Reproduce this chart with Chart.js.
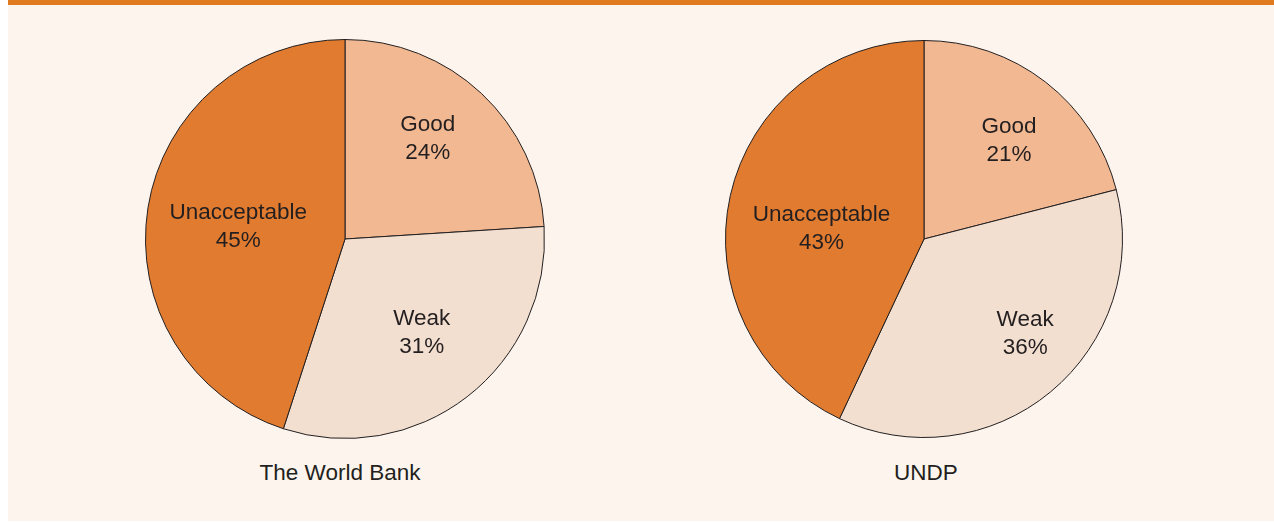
<!DOCTYPE html>
<html>
<head>
<meta charset="utf-8">
<script src="https://cdn.jsdelivr.net/npm/chart.js@4/dist/chart.umd.min.js"></script>
<style>
  html, body { margin: 0; padding: 0; background: #ffffff; }
  body { width: 1274px; height: 522px; position: relative; overflow: hidden; font-family: "Liberation Sans", Arial, sans-serif; }
  .topbar { position: absolute; left: 8px; top: 0; width: 1266px; height: 5px; background: #e07a1f; }
  .panel { position: absolute; left: 8px; top: 5px; width: 1266px; height: 516px; background: #fcf4ed; }
  .pie { position: absolute; width: 420px; height: 420px; top: 29px; }
  .title { position: absolute; top: 460px; font-size: 22.5px; line-height: 26px; color: #231f20; transform: translateX(-50%); white-space: nowrap; }
</style>
</head>
<body>
<div class="topbar"></div>
<div class="panel"></div>
<div class="pie" style="left:135px"><canvas id="wb"></canvas></div>
<div class="pie" style="left:714px"><canvas id="undp"></canvas></div>
<div class="title" style="left:340px">The World Bank</div>
<div class="title" style="left:926px">UNDP</div>
<script>
// Ratings of project evaluations, share in %
const categories = ['Good', 'Weak', 'Unacceptable'];
const worldBankValues = [24, 31, 45];
const undpValues = [21, 36, 43];

const sliceColors = ['#f2b891', '#f2dfd0', '#e07b30'];
const inkColor = '#231f20';

// label placement per slice: [fraction of radius, angle shift in degrees]
const wbLabelPlace = [[0.66, -4.3], [0.60, -2.1], [0.54, -1.5]];
const undpLabelPlace = [[0.66, 2.6], [0.69, -8], [0.52, -6]];

const sliceLabels = {
    id: 'sliceLabels',
    afterDatasetsDraw(chart, args, opts) {
        const ctx = chart.ctx;
        const meta = chart.getDatasetMeta(0);
        const values = chart.data.datasets[0].data;
        ctx.save();
        ctx.fillStyle = inkColor;
        ctx.font = '22.5px "Liberation Sans", Arial, sans-serif';
        ctx.textAlign = 'center';
        ctx.textBaseline = 'middle';
        meta.data.forEach((arc, i) => {
            const p = arc.getProps(['x', 'y', 'startAngle', 'endAngle', 'outerRadius'], true);
            const [frac, shift] = opts.place[i];
            const mid = (p.startAngle + p.endAngle) / 2 + shift * Math.PI / 180;
            const r = p.outerRadius * frac;
            const x = p.x + Math.cos(mid) * r;
            const y = p.y + Math.sin(mid) * r + 2;
            ctx.fillText(chart.data.labels[i], x, y - 14);
            ctx.fillText(values[i] + '%', x, y + 14);
        });
        ctx.restore();
    }
};

function makePie(id, values, labelPlace, pad) {
    return new Chart(document.getElementById(id), {
        type: 'pie',
        data: {
            labels: categories,
            datasets: [{
                data: values,
                backgroundColor: sliceColors,
                borderColor: inkColor,
                borderWidth: 1,
            }],
        },
        options: {
            responsive: true,
            maintainAspectRatio: false,
            animation: false,
            layout: { padding: pad },
            plugins: {
                legend: { display: false },
                tooltip: { enabled: false },
                sliceLabels: { place: labelPlace },
            },
        },
        plugins: [sliceLabels],
    });
}

makePie('wb', worldBankValues, wbLabelPlace, 10);
makePie('undp', undpValues, undpLabelPlace, 11);
</script>
</body>
</html>
